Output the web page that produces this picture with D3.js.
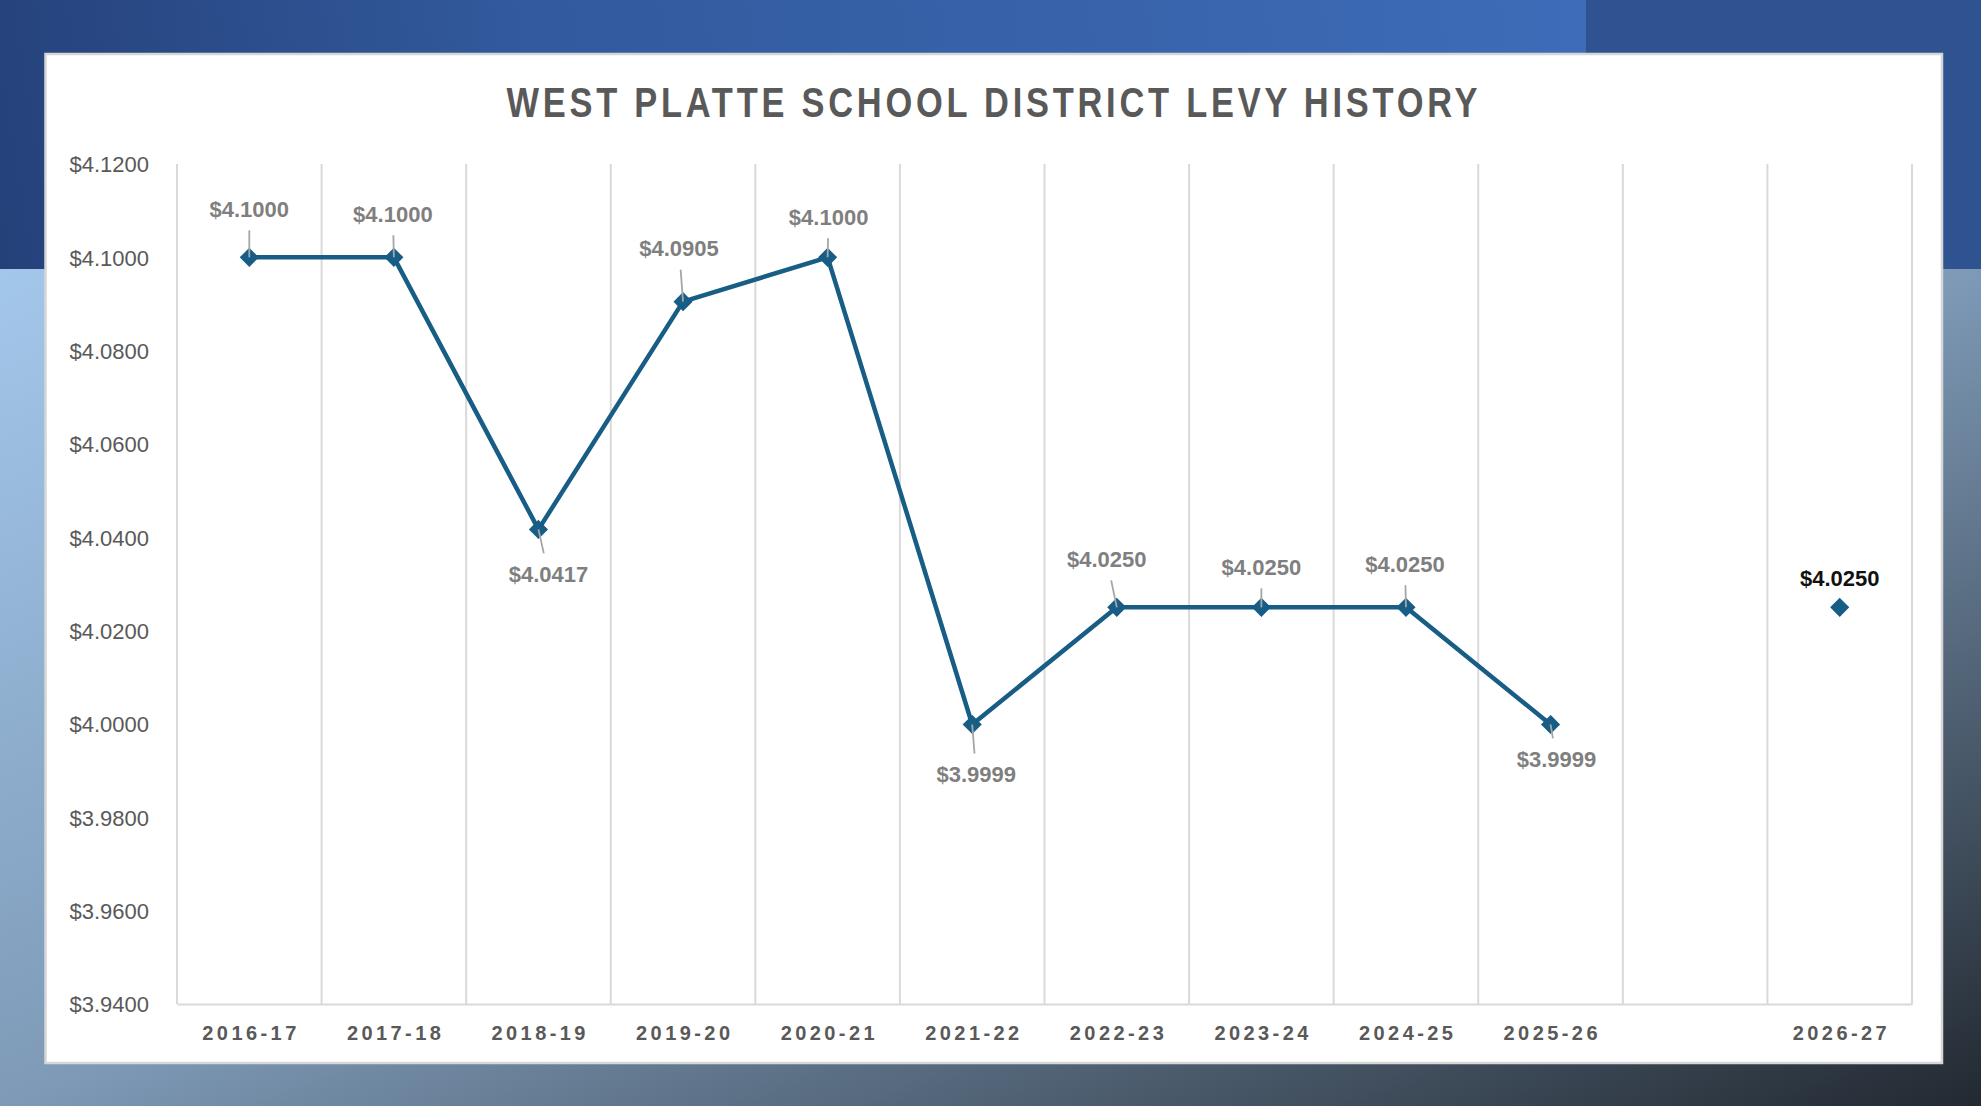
<!DOCTYPE html>
<html>
<head>
<meta charset="utf-8">
<script src="https://cdn.jsdelivr.net/npm/d3@7"></script>
<style>
    html, body { margin: 0; padding: 0; overflow: hidden; background: #2f5291; }
    svg { display: block; }
    .tick-label { font-family: "Liberation Sans", Arial, sans-serif; font-size: 22px; fill: #595959; }
    .cat-label { font-family: "Liberation Sans", Arial, sans-serif; font-weight: bold; font-size: 20px; fill: #595959; }
    .data-label { font-family: "Liberation Sans", Arial, sans-serif; font-weight: bold; font-size: 22px; }
</style>
</head>
<body>
<svg id="chart"></svg>
<script>
const W = 1981, H = 1106

const categories = ['2016-17', '2017-18', '2018-19', '2019-20', '2020-21', '2021-22', '2022-23', '2023-24', '2024-25', '2025-26', '', '2026-27']
const levy = [4.1000, 4.1000, 4.0417, 4.0905, 4.1000, 3.9999, 4.0250, 4.0250, 4.0250, 3.9999, null, null]
const projected = [null, null, null, null, null, null, null, null, null, null, null, 4.0250]
const yTicks = [3.94, 3.96, 3.98, 4.00, 4.02, 4.04, 4.06, 4.08, 4.10, 4.12]

// where each data label sits relative to its marker (px)
const labelNudge = [[0, -48], [-1, -43], [10, 45], [-4, -53], [1, -40], [4, 50], [-10, -48], [0, -40], [-1, -43], [6, 35], null, [0, -29]]

const PANEL = { x: 45.5, y: 54, w: 1896.5, h: 1009 }
const PLOT = { left: 177, right: 1912, top: 164, bottom: 1004 }
const LINE_COLOR = '#175d86'
const NARROW = 0.82 // fake condensed face for the title, no narrow font installed

const svg = d3.select('#chart').attr('width', W).attr('height', H)
const defs = svg.append('defs')

const bgGrad = defs.append('linearGradient').attr('id', 'bg-grad')
    .attr('gradientUnits', 'userSpaceOnUse')
    .attr('x1', 0).attr('y1', 269).attr('x2', 600).attr('y2', 1689)
bgGrad.append('stop').attr('offset', 0).attr('stop-color', '#a3c7eb')
bgGrad.append('stop').attr('offset', 0.5).attr('stop-color', '#7e9ab7')
bgGrad.append('stop').attr('offset', 1).attr('stop-color', '#222931')

const bandGrad = defs.append('linearGradient').attr('id', 'band-grad')
    .attr('gradientUnits', 'userSpaceOnUse')
    .attr('x1', 0).attr('y1', 269).attr('x2', 1586).attr('y2', 0)
bandGrad.append('stop').attr('offset', 0).attr('stop-color', '#25417a')
bandGrad.append('stop').attr('offset', 0.35).attr('stop-color', '#325a9d')
bandGrad.append('stop').attr('offset', 1).attr('stop-color', '#3e6cb8')

// slide background
svg.append('rect').attr('width', W).attr('height', H).attr('fill', 'url(#bg-grad)')
svg.append('rect').attr('width', 1586).attr('height', 269).attr('fill', 'url(#band-grad)')
svg.append('rect').attr('x', 1586).attr('width', W - 1586).attr('height', 269).attr('fill', '#2f5291')

// chart panel
svg.append('rect')
    .attr('x', PANEL.x).attr('y', PANEL.y)
    .attr('width', PANEL.w).attr('height', PANEL.h)
    .attr('fill', '#ffffff')
    .attr('stroke', '#d6d6d6')
    .attr('stroke-width', 2.5)

svg.append('g')
    .attr('transform', `translate(992,117) scale(${NARROW},1)`)
    .append('text')
    .attr('text-anchor', 'middle')
    .attr('textLength', 971 / NARROW)
    .attr('lengthAdjust', 'spacing')
    .style('font-family', '"Liberation Sans", Arial, sans-serif')
    .style('font-weight', 'bold')
    .style('font-size', '42px')
    .style('fill', '#595959')
    .text('WEST PLATTE SCHOOL DISTRICT LEVY HISTORY')

const x = d3.scaleBand()
    .domain(categories.map((c, i) => i))
    .range([PLOT.left, PLOT.right])
    .padding(0)

const y = d3.scaleLinear()
    .domain([3.94, 4.12])
    .range([PLOT.bottom, PLOT.top])

const cx = i => x(i) + x.bandwidth() / 2

// vertical category gridlines
const gGrid = svg.append('g')
gGrid.selectAll('line')
    .data(d3.range(categories.length + 1))
    .join('line')
    .attr('x1', i => PLOT.left + i * x.step())
    .attr('x2', i => PLOT.left + i * x.step())
    .attr('y1', PLOT.top)
    .attr('y2', PLOT.bottom)
    .attr('stroke', '#d9d9d9')
    .attr('stroke-width', 2)

// x axis
const xAxis = d3.axisBottom(x).tickSize(0).tickPadding(0).tickFormat(i => categories[i])
const gX = svg.append('g')
    .attr('transform', `translate(0,${PLOT.bottom})`)
    .call(xAxis)
gX.select('.domain').attr('stroke', '#d9d9d9').attr('stroke-width', 2)
gX.selectAll('text')
    .attr('class', 'cat-label')
    .attr('y', 36)
    .attr('dy', 0)
    .attr('textLength', d => categories[d] ? 94 : null)
    .attr('lengthAdjust', 'spacing')

// y axis labels only
const yAxis = d3.axisLeft(y).tickValues(yTicks).tickSize(0).tickPadding(0).tickFormat(d => '$' + d3.format('.4f')(d))
const gY = svg.append('g')
    .attr('transform', 'translate(149,0)')
    .call(yAxis)
gY.select('.domain').remove()
gY.selectAll('text').attr('class', 'tick-label').attr('dy', '0.35em')

// levy line
const levyPoints = levy.map((v, i) => ({ i, v })).filter(d => d.v !== null)
svg.append('path')
    .datum(levyPoints)
    .attr('d', d3.line().x(d => cx(d.i)).y(d => y(d.v)))
    .attr('fill', 'none')
    .attr('stroke', LINE_COLOR)
    .attr('stroke-width', 4.5)
    .attr('stroke-linejoin', 'round')

const projPoints = projected.map((v, i) => ({ i, v, proj: true })).filter(d => d.v !== null)
const allPoints = levyPoints.concat(projPoints)

const diamond = d3.symbol().type(d3.symbolDiamond2).size(170)
svg.append('g')
    .selectAll('path')
    .data(allPoints)
    .join('path')
    .attr('transform', d => `translate(${cx(d.i)},${y(d.v)})`)
    .attr('d', diamond)
    .attr('fill', LINE_COLOR)
    .attr('stroke', LINE_COLOR)
    .attr('stroke-width', 2)

// leader lines for the levy labels
const GAP = 21
svg.append('g')
    .selectAll('line')
    .data(levyPoints)
    .join('line')
    .each(function (d) {
        const [dx, dy] = labelNudge[d.i]
        const k = (Math.abs(dy) - GAP) / Math.abs(dy)
        d3.select(this)
            .attr('x1', cx(d.i))
            .attr('y1', y(d.v))
            .attr('x2', cx(d.i) + dx * k)
            .attr('y2', y(d.v) + dy * k)
    })
    .attr('stroke', '#a6a6a6')
    .attr('stroke-width', 1.8)

svg.append('g')
    .selectAll('text')
    .data(allPoints)
    .join('text')
    .attr('class', 'data-label')
    .attr('x', d => cx(d.i) + labelNudge[d.i][0])
    .attr('y', d => y(d.v) + labelNudge[d.i][1])
    .attr('dy', '0.35em')
    .attr('text-anchor', 'middle')
    .style('fill', d => d.proj ? '#111111' : '#7f7f7f')
    .text(d => '$' + d3.format('.4f')(d.v))
</script>
</body>
</html>
